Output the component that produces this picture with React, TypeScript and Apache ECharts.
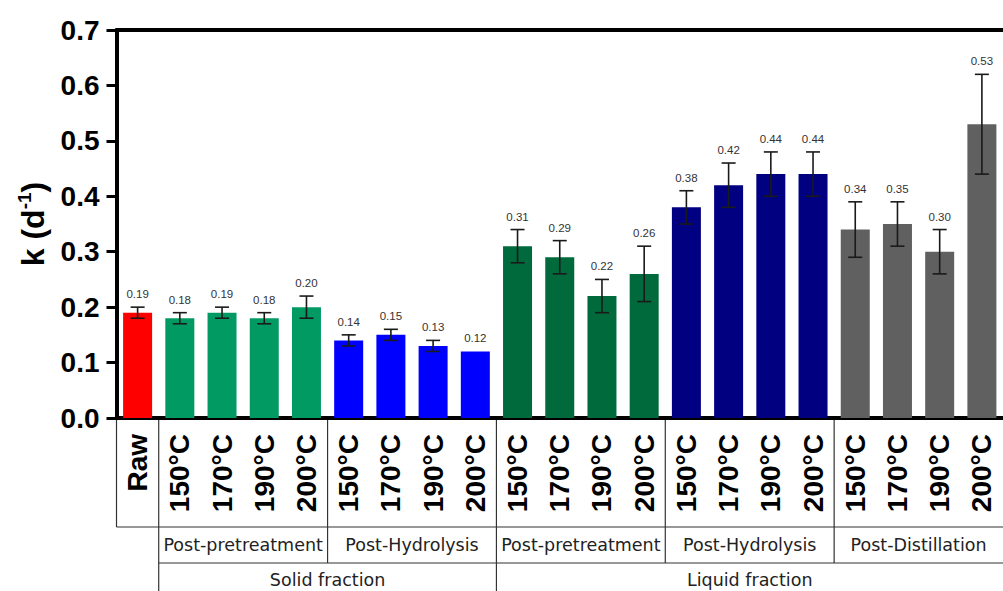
import React, { useEffect, useRef } from 'react';
import * as echarts from 'echarts';

// Bar categories (Raw + four temperatures for each processing stage)
const categories = [
  'Raw',
  '150°C', '170°C', '190°C', '200°C',
  '150°C', '170°C', '190°C', '200°C',
  '150°C', '170°C', '190°C', '200°C',
  '150°C', '170°C', '190°C', '200°C',
  '150°C', '170°C', '190°C', '200°C',
];

// Rate constant k (d^-1) and its standard deviation
const kValues = [
  0.19,
  0.18, 0.19, 0.18, 0.20,
  0.14, 0.15, 0.13, 0.12,
  0.31, 0.29, 0.22, 0.26,
  0.38, 0.42, 0.44, 0.44,
  0.34, 0.35, 0.30, 0.53,
];
const kErrors = [
  0.01,
  0.01, 0.01, 0.01, 0.02,
  0.01, 0.01, 0.01, 0.0,
  0.03, 0.03, 0.03, 0.05,
  0.03, 0.04, 0.04, 0.04,
  0.05, 0.04, 0.04, 0.09,
];

// Which group each bar belongs to (drives the colour)
const barGroup = [
  'raw',
  'solidPre', 'solidPre', 'solidPre', 'solidPre',
  'solidHyd', 'solidHyd', 'solidHyd', 'solidHyd',
  'liqPre', 'liqPre', 'liqPre', 'liqPre',
  'liqHyd', 'liqHyd', 'liqHyd', 'liqHyd',
  'liqDist', 'liqDist', 'liqDist', 'liqDist',
];
const groupColors: Record<string, string> = {
  raw: '#ff0000',
  solidPre: '#009a62',
  solidHyd: '#0000ff',
  liqPre: '#006a3c',
  liqHyd: '#000080',
  liqDist: '#606060',
};

// Bracket rows under the axis: [label, first index, last index]
const stageGroups: [string, number, number][] = [
  ['Post-pretreatment', 1, 4],
  ['Post-Hydrolysis', 5, 8],
  ['Post-pretreatment', 9, 12],
  ['Post-Hydrolysis', 13, 16],
  ['Post-Distillation', 17, 20],
];
const fractionGroups: [string, number, number][] = [
  ['Solid fraction', 1, 8],
  ['Liquid fraction', 9, 20],
];

const yTicks = [0, 0.1, 0.2, 0.3, 0.4, 0.5, 0.6, 0.7];

const SANS = 'Liberation Sans, Arial, sans-serif';
const WIDE = 'DejaVu Sans, sans-serif';
const BAND = 42.8;

export default function App() {
  const ref = useRef<HTMLDivElement>(null);

  useEffect(() => {
    if (!ref.current) return;
    const chart = echarts.init(ref.current, undefined, { renderer: 'svg' });

    const option: any = {
      animation: false,
      grid: { left: 116.5, top: 30, width: BAND * categories.length, height: 388 },
      xAxis: [
        {
          type: 'category',
          data: categories,
          position: 'bottom',
          axisLine: { lineStyle: { color: '#000', width: 4 } },
          axisTick: { alignWithLabel: true, length: 8, lineStyle: { color: '#000', width: 3 } },
          axisLabel: {
            rotate: 90,
            interval: 0,
            margin: 16,
            fontSize: 28,
            fontWeight: 'bold',
            fontFamily: SANS,
            color: '#000',
          },
        },
        {
          type: 'category',
          data: categories,
          position: 'top',
          axisLine: { lineStyle: { color: '#000', width: 4 } },
          axisTick: { show: false },
          axisLabel: { show: false },
        },
      ],
      yAxis: {
        type: 'value',
        min: yTicks[0],
        max: yTicks[yTicks.length - 1],
        interval: 0.1,
        splitLine: { show: false },
        axisLine: { show: true, lineStyle: { color: '#000', width: 4 } },
        axisTick: { show: true, length: 10, lineStyle: { color: '#000', width: 3 } },
        axisLabel: {
          formatter: (v: number) => v.toFixed(1),
          fontSize: 28,
          fontWeight: 'bold',
          fontFamily: SANS,
          color: '#000',
          margin: 17,
        },
        name: '{a|k (d}{s|-1}{a|)}',
        nameLocation: 'middle',
        nameRotate: 90,
        nameGap: 66,
        nameTextStyle: {
          rich: {
            a: { fontSize: 32, fontWeight: 'bold', fontFamily: SANS, color: '#000', lineHeight: 36 },
            s: { fontSize: 19, fontWeight: 'bold', fontFamily: SANS, color: '#000', lineHeight: 36, verticalAlign: 'top' },
          },
        },
      },
      series: [
        {
          type: 'bar',
          barWidth: 29,
          data: kValues.map((v, i) => ({ value: v, itemStyle: { color: groupColors[barGroup[i]] } })),
        },
        {
          type: 'custom',
          z: 10,
          clip: false,
          data: kValues.map((v, i) => [i, v, kErrors[i]]),
          renderItem: (_params: any, api: any) => {
            const i = api.value(0);
            const v = api.value(1);
            const e = api.value(2);
            const top = api.coord([i, v + e]);
            const bot = api.coord([i, v - e]);
            const half = 7;
            const stroke = { stroke: '#1a1a1a', lineWidth: 1.6 };
            const children: any[] = [];
            if (e > 0) {
              children.push(
                { type: 'line', shape: { x1: top[0], y1: top[1], x2: bot[0], y2: bot[1] }, style: stroke },
                { type: 'line', shape: { x1: top[0] - half, y1: top[1], x2: top[0] + half, y2: top[1] }, style: stroke },
                { type: 'line', shape: { x1: bot[0] - half, y1: bot[1], x2: bot[0] + half, y2: bot[1] }, style: stroke },
              );
            }
            children.push({
              type: 'text',
              x: top[0],
              y: top[1] - 7,
              style: {
                text: v.toFixed(2),
                fontSize: 11.5,
                fontFamily: SANS,
                fill: '#333333',
                align: 'center',
                verticalAlign: 'bottom',
              },
            });
            return { type: 'group', children };
          },
        },
      ],
    };

    chart.setOption(option);

    // Table of brackets under the category axis, positioned from the axis scale
    const cx = (i: number) => chart.convertToPixel({ xAxisIndex: 0 }, i) as number;
    const band = cx(1) - cx(0);
    const edge = (k: number) => cx(0) + (k - 0.5) * band;
    const axisY = chart.convertToPixel({ yAxisIndex: 0 }, 0) as number;
    const row1 = 527;
    const row2 = 563;
    const bottom = 591;
    const rightEnd = edge(categories.length);
    const lineStyle = { stroke: '#333', lineWidth: 1.2 };
    const seg = (x1: number, y1: number, x2: number, y2: number) => ({
      type: 'line',
      silent: true,
      shape: { x1, y1, x2, y2 },
      style: lineStyle,
    });

    const elements: any[] = [
      seg(edge(0), axisY, edge(0), row1),
      seg(edge(0), row1, rightEnd, row1),
      seg(edge(1), row2, rightEnd, row2),
    ];
    // Fraction boundaries run to the bottom, stage boundaries stop at the second row
    fractionGroups.forEach(([, from]) => {
      elements.push(seg(edge(from), axisY, edge(from), bottom));
    });
    stageGroups.forEach(([, from]) => {
      const isFractionStart = fractionGroups.some(([, f]) => f === from);
      if (!isFractionStart) elements.push(seg(edge(from), axisY, edge(from), row2));
    });
    stageGroups.forEach(([label, from, to]) => {
      elements.push({
        type: 'text',
        silent: true,
        x: (edge(from) + edge(to + 1)) / 2,
        y: (row1 + row2) / 2,
        style: { text: label, fontSize: 17.5, fontFamily: WIDE, fill: '#222', align: 'center', verticalAlign: 'middle' },
      });
    });
    fractionGroups.forEach(([label, from, to]) => {
      elements.push({
        type: 'text',
        silent: true,
        x: (edge(from) + edge(to + 1)) / 2,
        y: row2 + 17,
        style: { text: label, fontSize: 17.5, fontFamily: WIDE, fill: '#222', align: 'center', verticalAlign: 'middle' },
      });
    });

    chart.setOption({ graphic: elements });

    return () => chart.dispose();
  }, []);

  return (
    <div
      ref={ref}
      style={{ position: 'fixed', left: 0, top: 0, width: 1003, height: 591, background: '#fff' }}
    />
  );
}
